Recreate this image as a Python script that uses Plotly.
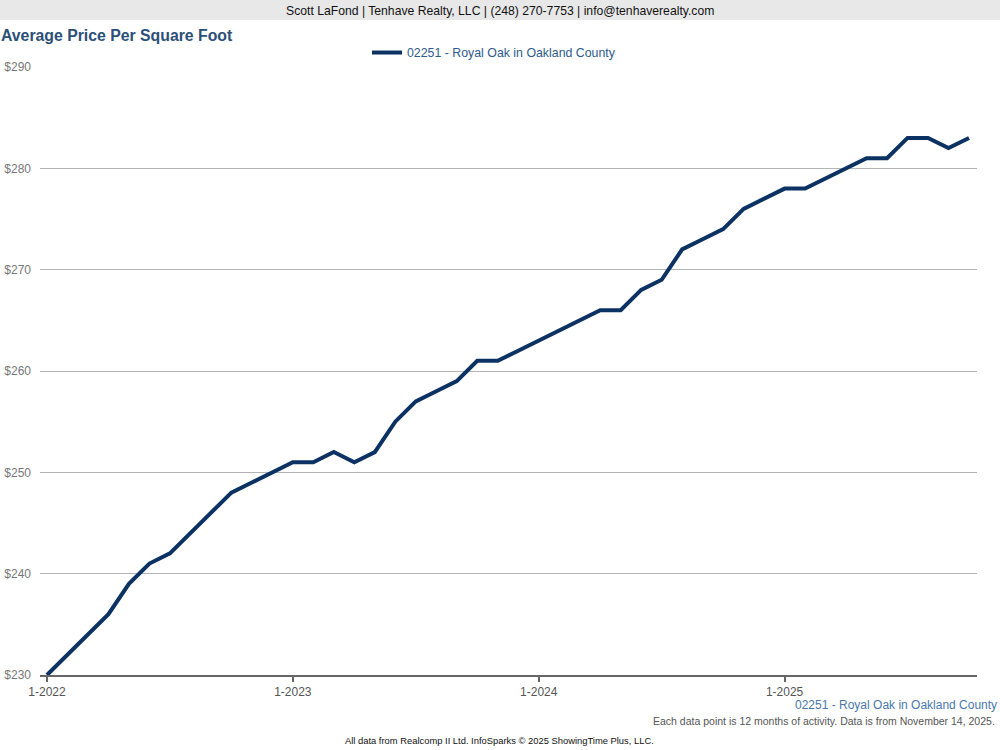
import plotly.graph_objects as go

# ---- data ----
month_labels = [
    "1-2022", "2-2022", "3-2022", "4-2022", "5-2022", "6-2022", "7-2022", "8-2022", "9-2022", "10-2022", "11-2022", "12-2022",
    "1-2023", "2-2023", "3-2023", "4-2023", "5-2023", "6-2023", "7-2023", "8-2023", "9-2023", "10-2023", "11-2023", "12-2023",
    "1-2024", "2-2024", "3-2024", "4-2024", "5-2024", "6-2024", "7-2024", "8-2024", "9-2024", "10-2024", "11-2024", "12-2024",
    "1-2025", "2-2025", "3-2025", "4-2025", "5-2025", "6-2025", "7-2025", "8-2025", "9-2025", "10-2025",
]
price_per_sqft = [
    230, 232, 234, 236, 239, 241, 242, 244, 246, 248, 249, 250,
    251, 251, 252, 251, 252, 255, 257, 258, 259, 261, 261, 262,
    263, 264, 265, 266, 266, 268, 269, 272, 273, 274, 276, 277,
    278, 278, 279, 280, 281, 281, 283, 283, 282, 283,
]
series_name = "02251 - Royal Oak in Oakland County"
x_tick_labels = ["1-2022", "1-2023", "1-2024", "1-2025"]
y_ticks = [230, 240, 250, 260, 270, 280, 290]

W, H = 1000, 750
L, R, T, B = 40, 23, 67, 75
PW, PH = W - L - R, H - T - B

def px(x):
    return (x - L) / PW

def py(y):
    return (H - B - y) / PH

FONT = "Liberation Sans, Arial, sans-serif"

fig = go.Figure()
fig.add_trace(go.Scatter(
    x=list(range(len(month_labels))),
    y=price_per_sqft,
    mode="lines",
    name=series_name,
    line=dict(color="#0b3263", width=4),
    hoverinfo="skip",
))

tickvals = [month_labels.index(t) for t in x_tick_labels]

fig.update_layout(
    width=W, height=H,
    margin=dict(l=L, r=R, t=T, b=B, pad=0, autoexpand=False),
    paper_bgcolor="white",
    plot_bgcolor="white",
    font=dict(family=FONT, size=12, color="#666666"),
    showlegend=True,
    legend=dict(
        orientation="h", x=px(494), xanchor="center", y=py(53), yanchor="middle",
        font=dict(family=FONT, size=12.35, color="#2d5b8a"),
        bgcolor="rgba(0,0,0,0)",
    ),
    xaxis=dict(
        range=[-0.34, len(month_labels) - 1 + 0.39],
        tickvals=tickvals, ticktext=x_tick_labels,
        showgrid=False, zeroline=False, automargin=False,
        showline=True, linecolor="#666666", linewidth=2,
        ticks="outside", ticklen=5, tickwidth=2, tickcolor="#666666",
        tickfont=dict(family=FONT, size=12, color="#555555"),
    ),
    yaxis=dict(
        range=[230, 290],
        tickvals=y_ticks, ticktext=["$%d" % v for v in y_ticks],
        showgrid=True, gridcolor="#b4b4b4", gridwidth=1,
        zeroline=False, showline=False, ticks="", automargin=False,
        ticklabelstandoff=8,
        tickfont=dict(family=FONT, size=12, color="#777777"),
    ),
    shapes=[
        dict(type="rect", xref="paper", yref="paper", x0=px(0), x1=px(W), y0=py(20), y1=py(0),
             fillcolor="#e8e8e8", line=dict(width=0), layer="below"),
    ],
)

annotations = [
    dict(text="Scott LaFond | Tenhave Realty, LLC | (248) 270-7753 | info@tenhaverealty.com",
         x=px(500), y=py(11), xanchor="center", yanchor="middle",
         font=dict(family=FONT, size=12.2, color="#111111")),
    dict(text="<b>Average Price Per Square Foot</b>",
         x=px(-1), y=py(35), xanchor="left", yanchor="middle",
         font=dict(family=FONT, size=15.8, color="#2b4f78")),
    dict(text=series_name,
         x=px(999), y=py(705), xanchor="right", yanchor="middle",
         font=dict(family=FONT, size=12, color="#4a78aa")),
    dict(text="Each data point is 12 months of activity. Data is from November 14, 2025.",
         x=px(997), y=py(721), xanchor="right", yanchor="middle",
         font=dict(family=FONT, size=10.5, color="#555555")),
    dict(text="All data from Realcomp II Ltd. InfoSparks © 2025 ShowingTime Plus, LLC.",
         x=px(499), y=py(740), xanchor="center", yanchor="middle",
         font=dict(family=FONT, size=9.4, color="#111111")),
]
for a in annotations:
    a.update(xref="paper", yref="paper", showarrow=False)
fig.update_layout(annotations=annotations)

fig.write_html(
    "out.html",
    config={"displayModeBar": False},
    post_script="document.body.style.margin='0';document.body.style.padding='0';",
)
